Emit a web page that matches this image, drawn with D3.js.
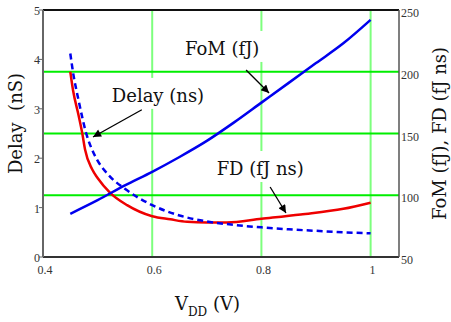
<!DOCTYPE html>
<html>
<head>
<meta charset="utf-8">
<script src="https://cdn.jsdelivr.net/npm/d3@7/dist/d3.min.js"></script>
<style>
  html, body { margin: 0; padding: 0; background: #fff; }
  svg { display: block; }
</style>
</head>
<body>
<div id="chart"></div>
<script>
// VDD sweep (V)
const vddDelay = [0.45, 0.455, 0.465, 0.48, 0.49, 0.5, 0.52, 0.55, 0.6, 0.65, 0.7, 0.75, 0.8, 0.85, 0.9, 0.95, 1.0];
const delayNs  = [4.12, 3.74, 3.18, 2.47, 2.17, 1.95, 1.66, 1.38, 1.05, 0.84, 0.72, 0.65, 0.6, 0.56, 0.53, 0.5, 0.48];

const vddFom = [0.45, 0.5, 0.55, 0.6, 0.65, 0.7, 0.75, 0.8, 0.85, 0.9, 0.95, 1.0];
const fomFJ  = [85, 96, 108, 119, 131, 144, 159, 175, 191, 207, 223, 242];

const vddFd = [0.45, 0.455, 0.465, 0.472, 0.477, 0.49, 0.5, 0.523, 0.554, 0.6, 0.633, 0.664, 0.7, 0.737, 0.8, 0.872, 0.95, 1.0];
const fdFJns = [200, 185, 165, 150, 137, 121, 114, 102, 92, 83, 80.5, 78.5, 78, 78, 81, 84.5, 89, 94];

const xTicks = [0.4, 0.6, 0.8, 1];
const xTickLabels = ['0.4', '0.6', '0.8', '1'];
const leftTicks = [0, 1, 2, 3, 4, 5];
const rightTicks = [50, 100, 150, 200, 250];

const W = 451, H = 322;
const plot = { left: 43, right: 399, top: 10, bottom: 257 };

const svg = d3.select('#chart').append('svg')
  .attr('width', W)
  .attr('height', H);

const x = d3.scaleLinear().domain([0.4, 1.052]).range([plot.left, plot.right]);
const yL = d3.scaleLinear().domain([0, 5]).range([plot.bottom, plot.top]);
const yR = d3.scaleLinear().domain([50, 250]).range([plot.bottom, plot.top]);

const serif = 'Liberation Serif, Times New Roman, serif';
const labelFont = 'DejaVu Serif, serif';

// grid lines
const grid = svg.append('g');
grid.selectAll('line.v')
  .data(xTicks.slice(1))
  .join('line')
  .attr('x1', d => x(d)).attr('x2', d => x(d))
  .attr('y1', plot.top).attr('y2', plot.bottom)
  .attr('stroke', '#7dff7d')
  .attr('stroke-width', 2);
grid.selectAll('line.h')
  .data(rightTicks.slice(1, -1))
  .join('line')
  .attr('x1', plot.left).attr('x2', plot.right)
  .attr('y1', d => yR(d)).attr('y2', d => yR(d))
  .attr('stroke', '#00ee00')
  .attr('stroke-width', 2);

// annotations (positions in data coords)
const notes = [
  { text: 'Delay (ns)', x: 0.526, y: yL(3.14), from: [0.581, yL(2.98)], to: [0.4916, yL(2.43)] },
  { text: 'FoM (fJ)', x: 0.66, y: yR(213.6), from: [0.772, yR(201.4)], to: [0.814, yR(182.8)] },
  { text: 'FD (fJ ns)', x: 0.718, y: yR(116.4), from: [0.816, yR(106.7)], to: [0.845, yR(85.6)] }
];

const noteG = svg.append('g');
notes.forEach(n => {
  const g = noteG.append('g');
  const bg = g.append('rect').attr('fill', '#fff');
  const t = g.append('text')
    .attr('x', x(n.x))
    .attr('y', n.y)
    .attr('font-family', labelFont)
    .attr('font-size', 18)
    .attr('fill', '#111')
    .text(n.text);
  const bb = t.node().getBBox();
  bg.attr('x', bb.x - 4).attr('y', bb.y - 7)
    .attr('width', bb.width + 8).attr('height', bb.height + 10);
});

// axes frame
svg.append('line')
  .attr('x1', plot.left).attr('x2', plot.right)
  .attr('y1', plot.top).attr('y2', plot.top)
  .attr('stroke', '#111').attr('stroke-width', 2);
svg.append('line')
  .attr('x1', plot.left).attr('x2', plot.right)
  .attr('y1', plot.bottom).attr('y2', plot.bottom)
  .attr('stroke', '#333').attr('stroke-width', 2);
svg.append('line')
  .attr('x1', plot.left).attr('x2', plot.left)
  .attr('y1', plot.top).attr('y2', plot.bottom)
  .attr('stroke', '#666').attr('stroke-width', 2);
svg.append('line')
  .attr('x1', plot.right).attr('x2', plot.right)
  .attr('y1', plot.top).attr('y2', plot.bottom)
  .attr('stroke', '#555').attr('stroke-width', 1.5);

// left ticks + labels
svg.selectAll('line.lt')
  .data(leftTicks)
  .join('line')
  .attr('x1', plot.left - 4).attr('x2', plot.left)
  .attr('y1', d => yL(d)).attr('y2', d => yL(d))
  .attr('stroke', '#666').attr('stroke-width', 1);
svg.selectAll('text.lt')
  .data(leftTicks)
  .join('text')
  .attr('x', plot.left - 3)
  .attr('y', d => yL(d) + 5)
  .attr('text-anchor', 'end')
  .attr('font-family', serif)
  .attr('font-size', 12)
  .attr('fill', '#333')
  .text(d => d);

// right labels
svg.selectAll('text.rt')
  .data(rightTicks)
  .join('text')
  .attr('x', plot.right + 2)
  .attr('y', d => yR(d) + 7)
  .attr('font-family', serif)
  .attr('font-size', 12)
  .attr('fill', '#333')
  .text(d => d);

// bottom labels
svg.selectAll('text.bt')
  .data(xTicks)
  .join('text')
  .attr('x', d => x(d) + 2)
  .attr('y', plot.bottom + 17)
  .attr('text-anchor', 'middle')
  .attr('font-family', serif)
  .attr('font-size', 12)
  .attr('fill', '#333')
  .text((d, i) => xTickLabels[i]);

// curves
const line = (xs, ys, yScale) => d3.line()
  .x((d, i) => x(xs[i]))
  .y(d => yScale(d))
  .curve(d3.curveMonotoneX)(ys);

svg.append('path')
  .attr('d', line(vddFd, fdFJns, yR))
  .attr('fill', 'none')
  .attr('stroke', '#ee0000')
  .attr('stroke-width', 2.5);
svg.append('path')
  .attr('d', line(vddFom, fomFJ, yR))
  .attr('fill', 'none')
  .attr('stroke', '#0000ee')
  .attr('stroke-width', 2.5);
svg.append('path')
  .attr('d', line(vddDelay, delayNs, yL))
  .attr('fill', 'none')
  .attr('stroke', '#0000ee')
  .attr('stroke-width', 2.5)
  .attr('stroke-dasharray', '6,4');

// arrows
svg.append('defs').append('marker')
  .attr('id', 'arrow')
  .attr('viewBox', '0 0 10 10')
  .attr('refX', 10).attr('refY', 5)
  .attr('markerWidth', 11).attr('markerHeight', 8)
  .attr('markerUnits', 'userSpaceOnUse')
  .attr('orient', 'auto')
  .append('path')
  .attr('d', 'M0,0 L10,5 L0,10 Z')
  .attr('fill', '#000');

svg.selectAll('line.arrow')
  .data(notes)
  .join('line')
  .attr('x1', d => x(d.from[0])).attr('y1', d => d.from[1])
  .attr('x2', d => x(d.to[0])).attr('y2', d => d.to[1])
  .attr('stroke', '#000')
  .attr('stroke-width', 1.3)
  .attr('marker-end', 'url(#arrow)');

// axis titles
svg.append('text')
  .attr('transform', `translate(22,${(plot.top + plot.bottom) / 2 - 10}) rotate(-90)`)
  .attr('text-anchor', 'middle')
  .attr('font-family', labelFont)
  .attr('font-size', 18)
  .attr('fill', '#111')
  .attr('xml:space', 'preserve')
  .style('white-space', 'pre')
  .text('Delay  (nS)');

svg.append('text')
  .attr('transform', `translate(446,${(plot.top + plot.bottom) / 2}) rotate(-90)`)
  .attr('text-anchor', 'middle')
  .attr('font-family', labelFont)
  .attr('font-size', 18)
  .attr('fill', '#111')
  .text('FoM (fJ), FD (fJ ns)');

const xt = svg.append('text')
  .attr('x', 175)
  .attr('y', 310)
  .attr('font-family', labelFont)
  .attr('font-size', 18)
  .attr('fill', '#111');
xt.append('tspan').text('V');
xt.append('tspan').attr('font-size', 12).attr('dy', 6).text('DD');
xt.append('tspan').attr('dy', -6).text(' (V)');
</script>
</body>
</html>
